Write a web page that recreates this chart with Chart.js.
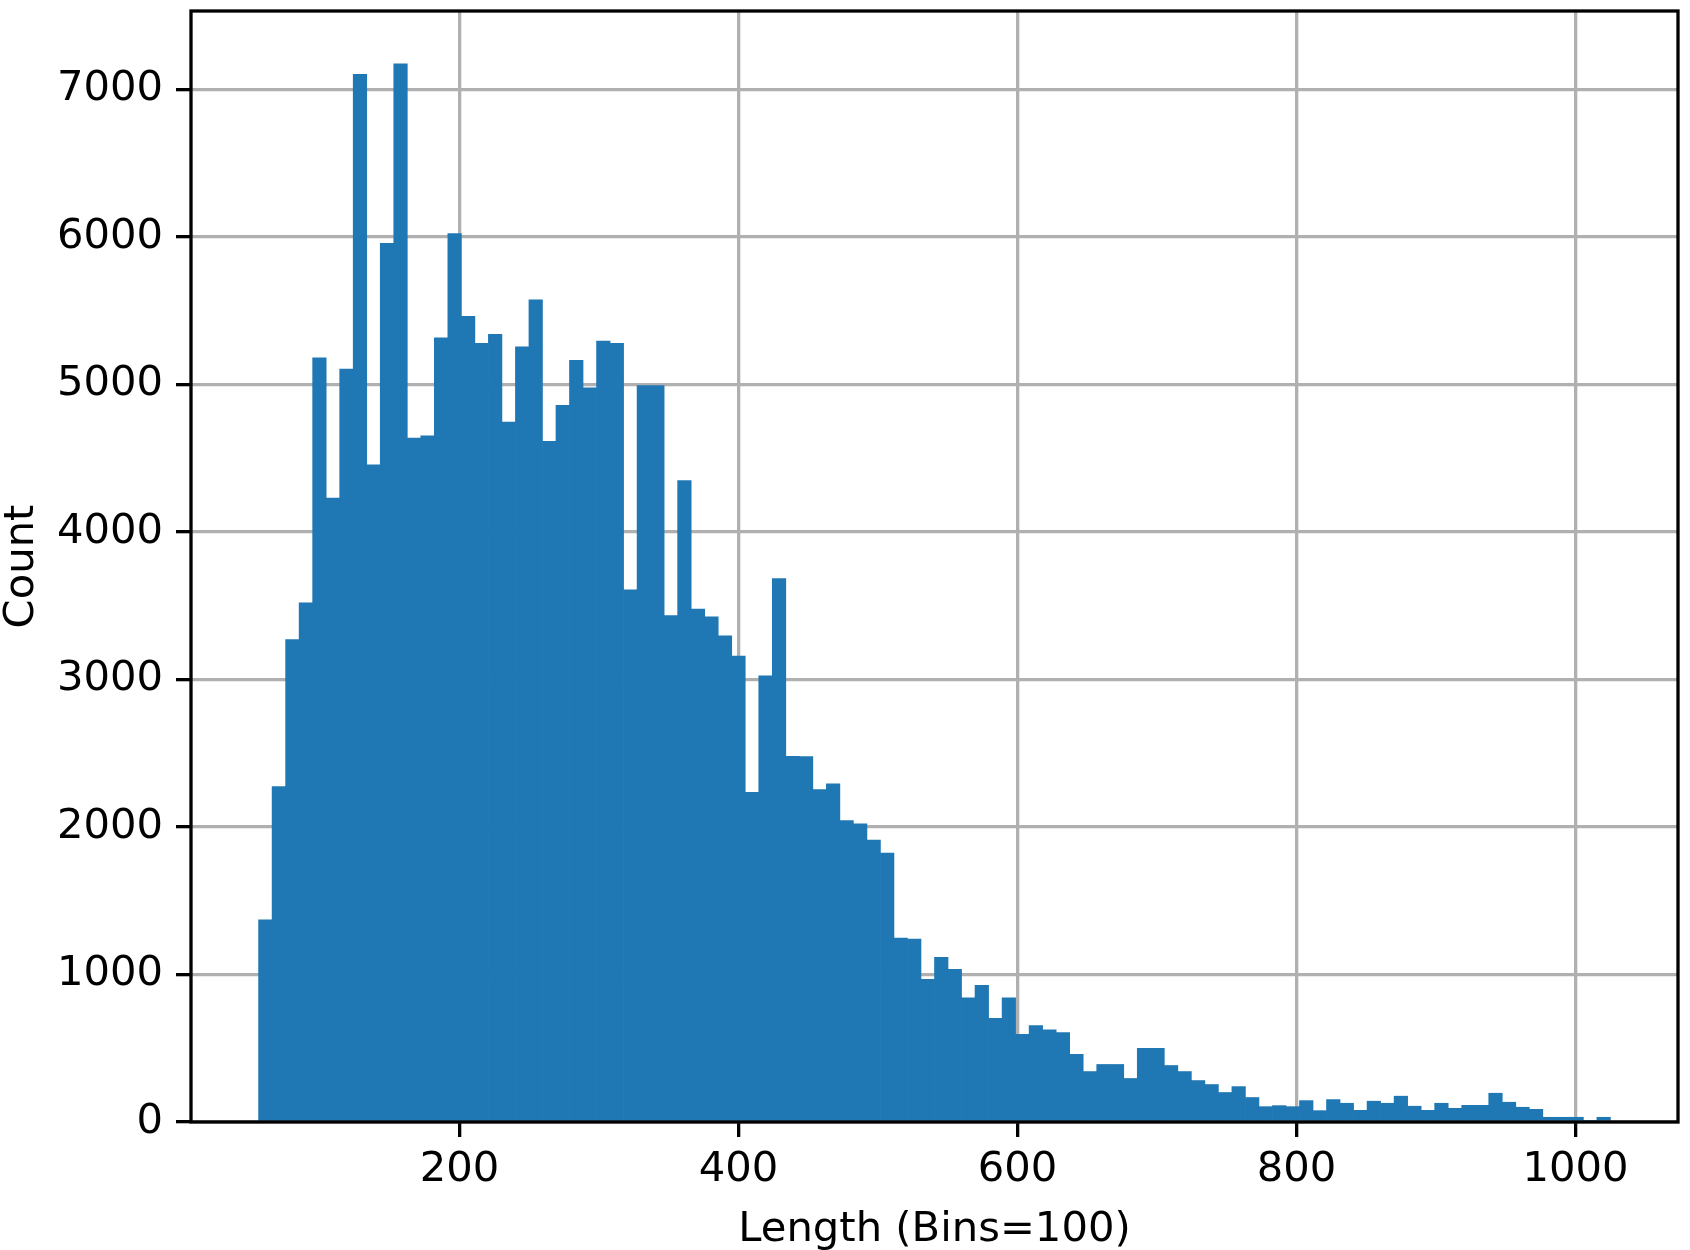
<!DOCTYPE html>
<html>
<head>
<meta charset="utf-8">
<script src="https://cdn.jsdelivr.net/npm/chart.js@4.4.1/dist/chart.umd.min.js"></script>
<style>
  html, body { margin: 0; padding: 0; background: #ffffff; }
  canvas { display: block; }
</style>
</head>
<body>
<canvas id="histLength" width="1690" height="1250"></canvas>
<script>
// histogram: 100 bins between binMin and binMax
const binMin = 56;
const binMax = 1025;
const counts = [
  1371, 2274, 3271, 3519, 5180, 4230, 5105, 7103, 4455, 5957,
  7173, 4637, 4651, 5316, 6022, 5461, 5278, 5339, 4745, 5255,
  5573, 4615, 4859, 5164, 4977, 5294, 5278, 3608, 4992, 4992,
  3433, 4348, 3478, 3425, 3295, 3158, 2235, 3024, 3684, 2479,
  2478, 2253, 2293, 2043, 2021, 1912, 1823, 1247, 1240, 968,
  1116, 1035, 842, 926, 703, 842, 594, 653, 625, 606,
  458, 342, 390, 390, 295, 499, 499, 383, 342, 281,
  254, 200, 240, 166, 104, 111, 104, 145, 77, 152,
  127, 79, 141, 127, 175, 107, 79, 127, 93, 113,
  113, 195, 134, 100, 86, 32, 32, 32, 11, 32
];
const xTicks = [200, 400, 600, 800, 1000];
const yTicks = [0, 1000, 2000, 3000, 4000, 5000, 6000, 7000];

const binWidth = (binMax - binMin) / counts.length;
const points = counts.map((c, i) => ({ x: binMin + (i + 0.5) * binWidth, y: c }));

// matplotlib-like 5% margins
const xPad = (binMax - binMin) * 0.05;
const yTop = Math.max(...counts) * 1.05;

const font = { family: 'DejaVu Sans', size: 41.7 };
const lw = 3.3;

// full frame around the plot, drawn last like mpl spines
const frame = {
  id: 'frame',
  afterDraw(chart) {
    const a = chart.chartArea;
    const ctx = chart.ctx;
    ctx.save();
    ctx.strokeStyle = '#000000';
    ctx.lineWidth = lw;
    ctx.strokeRect(a.left, a.top, a.right - a.left, a.bottom - a.top);
    ctx.restore();
  }
};

const gridOpts = { color: '#b0b0b0', lineWidth: lw, tickColor: '#000000', tickLength: 15, tickWidth: lw, offset: false };

new Chart(document.getElementById('histLength'), {
  type: 'bar',
  data: {
    datasets: [{
      data: points,
      backgroundColor: '#1f77b4',
      borderWidth: 0,
      barPercentage: 1.0,
      categoryPercentage: 1.0
    }]
  },
  options: {
    responsive: false,
    animation: false,
    layout: { padding: { top: 11, right: 12, left: 0, bottom: 0 } },
    plugins: {
      legend: { display: false },
      tooltip: { enabled: false }
    },
    scales: {
      x: {
        type: 'linear',
        offset: false,
        min: binMin - xPad,
        max: binMax + xPad,
        z: 1,
        afterBuildTicks: s => { s.ticks = xTicks.map(v => ({ value: v })); },
        afterFit: s => { s.height = 128; s.paddingLeft = 0; s.paddingRight = 0; },
        grid: gridOpts,
        border: { display: false },
        ticks: { color: '#000000', font: font, padding: 8, maxRotation: 0, callback: v => String(v) },
        title: { display: true, text: 'Length (Bins=100)', color: '#000000', font: font, padding: { top: 0, bottom: -5 } }
      },
      y: {
        min: 0,
        max: yTop,
        z: 1,
        afterBuildTicks: s => { s.ticks = yTicks.map(v => ({ value: v })); },
        afterFit: s => { s.width = 191; s.paddingTop = 0; s.paddingBottom = 0; },
        grid: gridOpts,
        border: { display: false },
        ticks: { color: '#000000', font: font, padding: 13, callback: v => String(v) },
        title: { display: true, text: 'Count', color: '#000000', font: font, padding: { top: -3, bottom: 0 } }
      }
    }
  },
  plugins: [frame]
});
</script>
</body>
</html>
